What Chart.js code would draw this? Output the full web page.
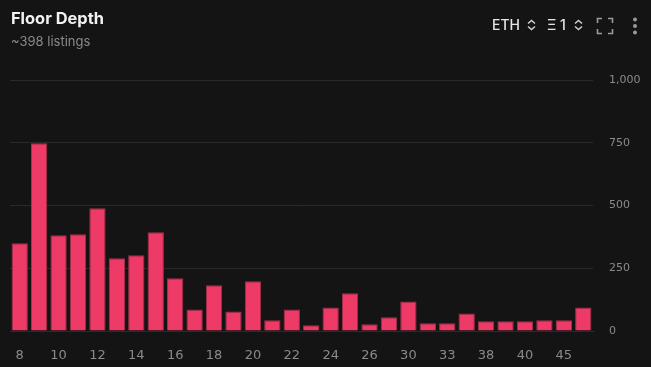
<!DOCTYPE html>
<html>
<head>
<meta charset="utf-8">
<script src="https://cdn.jsdelivr.net/npm/chart.js@4"></script>
<style>
  html, body { margin: 0; padding: 0; background: #141414; }
  body { width: 651px; height: 367px; position: relative; overflow: hidden; font-family: Inter, "Noto Sans", sans-serif; }
  #wrap { position: absolute; left: 0; top: 0; width: 651px; height: 367px; }
  .title { position: absolute; left: 11px; top: 8px; color: #f2f2f2; font-size: 16.4px; font-weight: 700; }
  .sub { position: absolute; left: 11px; top: 33px; color: #8a8a8a; font-size: 13px; }
  .ctl { position: absolute; top: 16px; color: #e6e6e6; font-size: 14px; font-weight: 500; }
  svg.ic { position: absolute; }
</style>
</head>
<body>
<div id="wrap"><canvas id="depth" width="651" height="367"></canvas></div>
<div class="title">Floor Depth</div>
<div class="sub">~398 listings</div>
<div class="ctl" style="left:492px">ETH</div>
<svg class="ic" style="left:526px;top:19px" width="11" height="12" viewBox="0 0 11 12"><path d="M2 4.5 L5.5 1.5 L9 4.5 M2 7.5 L5.5 10.5 L9 7.5" fill="none" stroke="#cfcfcf" stroke-width="1.5"/></svg>
<div class="ctl" style="left:547px">Ξ 1</div>
<svg class="ic" style="left:573px;top:19px" width="11" height="12" viewBox="0 0 11 12"><path d="M2 4.5 L5.5 1.5 L9 4.5 M2 7.5 L5.5 10.5 L9 7.5" fill="none" stroke="#cfcfcf" stroke-width="1.5"/></svg>
<svg class="ic" style="left:596px;top:17px" width="18" height="18" viewBox="0 0 18 18"><path d="M1.5 6 V1.5 H6 M12 1.5 H16.5 V6 M16.5 12 V16.5 H12 M6 16.5 H1.5 V12" fill="none" stroke="#9a9a9a" stroke-width="1.6"/></svg>
<svg class="ic" style="left:631px;top:17px" width="8" height="18" viewBox="0 0 8 18"><circle cx="4" cy="2.5" r="2" fill="#9a9a9a"/><circle cx="4" cy="9" r="2" fill="#9a9a9a"/><circle cx="4" cy="15.5" r="2" fill="#9a9a9a"/></svg>
<script>
// price buckets (ETH) and listing depth
const prices = [8, 9, 10, 11, 12, 13, 14, 15, 16, 17, 18, 19, 20, 21, 22, 23, 24, 25, 26, 28,
  30, 32, 33, 35, 38, 39, 40, 42, 45, 50];
const depth = [350, 748, 381, 385, 489, 290, 302, 393, 210, 86, 182, 78, 198, 43, 86, 23, 94, 150, 27, 55,
  118, 31, 31, 70, 39, 39, 39, 43, 43, 94];
const yTicks = [0, 250, 500, 750, 1000];

const ctx = document.getElementById('depth');

// eslint-disable-next-line no-new,no-undef
new Chart(ctx, {
  type: 'bar',
  data: {
    labels: prices,
    datasets: [
      {
        data: depth,
        backgroundColor: '#ee3a66',
        borderColor: '#a52f4c',
        borderWidth: 1,
        barPercentage: 0.84,
        categoryPercentage: 1,
      },
    ],
  },
  options: {
    responsive: false,
    animation: false,
    layout: { padding: { left: 10, top: 80, right: 0, bottom: 0 } },
    plugins: { legend: { display: false }, tooltip: { enabled: false } },
    scales: {
      x: {
        grid: { display: false },
        border: { color: '#2c2c2c' },
        ticks: {
          autoSkip: false,
          maxRotation: 0,
          padding: 9,
          color: '#8a8a8a',
          font: { family: 'DejaVu Sans', size: 13 },
          callback: (v, i) => (i % 2 === 0 ? prices[i] : ''),
        },
        afterFit: (s) => { s.height = 36; },
      },
      y: {
        position: 'right',
        min: 0,
        max: 1000,
        afterBuildTicks: (s) => { s.ticks = yTicks.map((v) => ({ value: v })); },
        grid: { color: '#2a2a2a', drawTicks: false },
        border: { display: false },
        ticks: {
          padding: 16,
          color: '#8a8a8a',
          font: { family: 'DejaVu Sans', size: 11 },
          callback: (v) => v.toLocaleString('en-US'),
        },
        afterFit: (s) => { s.width = 58; },
      },
    },
  },
});
</script>
</body>
</html>
